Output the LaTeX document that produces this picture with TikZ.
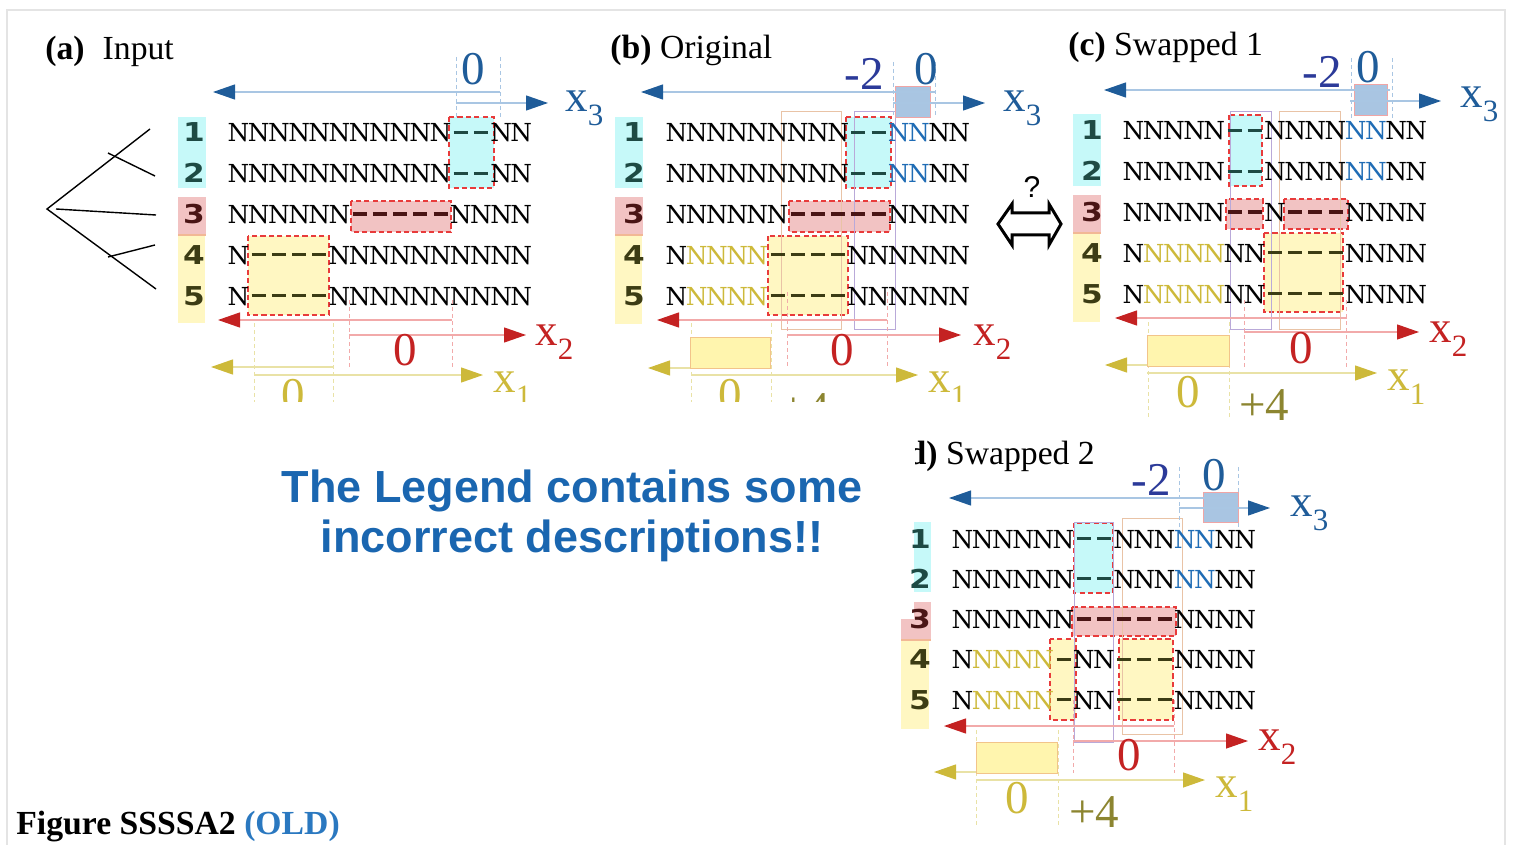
\documentclass[tikz,border=0pt]{standalone}
\usepackage{fontspec}
\setmainfont{Liberation Serif}
\newfontfamily\numfont{DejaVu Sans}
\newfontfamily\rowfont{DejaVu Serif}
\newfontfamily\lsans{Liberation Sans}
\usetikzlibrary{arrows.meta}
\definecolor{blueD}{HTML}{1F5C99}
\definecolor{blueL}{HTML}{A9C6E3}
\definecolor{indigoD}{HTML}{2B3A99}
\definecolor{redD}{HTML}{C42222}
\definecolor{redL}{HTML}{F2AAAA}
\definecolor{ylwD}{HTML}{CDB93A}
\definecolor{ylwL}{HTML}{E9E2A6}
\definecolor{oliveL}{HTML}{8C8530}
\definecolor{cyanF}{HTML}{C6F9F9}
\definecolor{pinkF}{HTML}{F2C3C3}
\definecolor{ylwF}{HTML}{FFF7C2}
\definecolor{tealD}{HTML}{1E4A44}
\definecolor{marD}{HTML}{4A1515}
\definecolor{oliD}{HTML}{3C3C14}
\definecolor{boxR}{HTML}{E83B3B}
\definecolor{bluN}{HTML}{1F6CB5}
\definecolor{ylwN}{HTML}{CDB93A}
\definecolor{bboxF}{HTML}{A9C5E2}
\definecolor{bboxD}{HTML}{F0A5A5}
\definecolor{yboxF}{HTML}{FFF5AE}
\definecolor{yboxD}{HTML}{F2C48A}
\definecolor{thinO}{HTML}{E9C3A6}
\definecolor{thinP}{HTML}{B9A9D9}
\definecolor{legB}{HTML}{1A66B0}
\definecolor{oldB}{HTML}{2A78C0}
\definecolor{grayB}{HTML}{E4E4E4}
\definecolor{orangeS}{HTML}{F2B895}
\newlength\cw
\setlength\cw{10.1pt}
\def\dcolor{black}
\def\seqrow#1#2{\def\dcolor{#1}\seqA#2\relax}
\def\seqA#1{\ifx#1\relax\else\seqch#1\expandafter\seqA\fi}
\def\seqch#1{\ifx#1-\makebox[\cw]{\textcolor{\dcolor}{\rule[4pt]{7pt}{1.6pt}}}\else\ifx#1Y\makebox[\cw]{\textcolor{ylwN}{N}}\else\ifx#1B\makebox[\cw]{\textcolor{bluN}{N}}\else\makebox[\cw]{N}\fi\fi\fi}
\newcommand\xsub[1]{x\raisebox{-7pt}{\fontsize{15.5pt}{16pt}\selectfont #1}}
\newcommand\panelrows[8]{%
  \foreach \i/\c in {1/tealD,2/tealD,3/marD,4/oliD,5/oliD}{%
    \node[numt,text=\c] (#1n\i) at (#2,{#4+(\i-1)*#5}) {\scalebox{1.2}[1]{\i}};}
  \node[rowt] (#1r1) at (#3,#4) {\seqrow{tealD}{#6}};
  \node[rowt] (#1r2) at (#3,{#4+#5}) {\seqrow{tealD}{#6}};
  \node[rowt] (#1r3) at (#3,{#4+2*#5}) {\seqrow{marD}{#7}};
  \node[rowt] (#1r4) at (#3,{#4+3*#5}) {\seqrow{oliD}{#8}};
  \node[rowt] (#1r5) at (#3,{#4+4*#5}) {\seqrow{oliD}{#8}};
}
\begin{document}
\begin{tikzpicture}[x=0.5pt,y=-0.5pt,
  rowt/.style={inner sep=0pt, anchor=base west, font=\rowfont\fontsize{12.4pt}{14pt}\selectfont},
  numt/.style={inner sep=0pt, anchor=base, font=\numfont\bfseries\fontsize{13pt}{15pt}\selectfont},
  ttl/.style={inner sep=0pt, anchor=base west, font=\fontsize{16.85pt}{18pt}\selectfont},
  lbl/.style={inner sep=0pt, anchor=base, font=\fontsize{23.5pt}{25pt}\selectfont},
  axl/.style={inner sep=0pt, anchor=base west, font=\fontsize{22.5pt}{24pt}\selectfont},
  axB/.style={draw=blueL, line width=0.6pt, -{Triangle[length=11pt,width=7.5pt,color=blueD]}},
  axR/.style={draw=redL, line width=0.6pt, -{Triangle[length=11pt,width=7.5pt,color=redD]}},
  axY/.style={draw=ylwL, line width=0.6pt, -{Triangle[length=11pt,width=7.5pt,color=ylwD]}},
  guideB/.style={draw=blueL, line width=0.45pt, dash pattern=on 2pt off 1.5pt},
  guideR/.style={draw=redL, line width=0.45pt, dash pattern=on 2pt off 1.5pt},
  guideY/.style={draw=ylwL, line width=0.45pt, dash pattern=on 2pt off 1.5pt},
  rbox/.style={draw=boxR, line width=0.7pt, dash pattern=on 2.6pt off 1.6pt},
  bbox/.style={fill=bboxF, draw=bboxD, line width=0.5pt},
  ybox/.style={fill=yboxF, draw=yboxD, line width=0.5pt},
  thinrect/.style={line width=0.5pt},
  treeline/.style={draw=black, line width=0.7pt},
]
\useasboundingbox (0,0) rectangle (1514,845);
\draw[grayB, line width=0.6pt] (7,850) -- (7,10) -- (1505,10) -- (1505,850);

% ================= (a) =================
\node[ttl] (ta) at (45,60) {\textbf{(a)}\hspace{9pt}Input};
\fill[cyanF] (178,117) rectangle (206,188);
\fill[pinkF] (178,197) rectangle (206,235);
\fill[ylwF] (178,236) rectangle (205,323);
\draw[orangeS, line width=1pt] (178,235.5) -- (206,235.5);
\draw[treeline] (150,129) -- (47,209) -- (156,289);
\draw[treeline] (56,209) -- (156,215);
\draw[treeline] (108,153) -- (155,176);
\draw[treeline] (108,257) -- (155,245);
\filldraw[fill=cyanF, rbox] (449,117) rectangle (494,188);
\filldraw[fill=pinkF, rbox] (351,201) rectangle (451,232);
\filldraw[fill=ylwF, rbox] (248,236) rectangle (329,315);
\panelrows{a}{194}{228}{142}{40.8}{NNNNNNNNNNN--NN}{NNNNNN-----NNNN}{N----NNNNNNNNNN}
\draw[guideB] (456,57) -- (456,117);
\draw[guideB] (500,57) -- (500,117);
\draw[axB] (500,92) -- (213,92);
\draw[axB] (456,103) -- (548,103);
\node[lbl, text=blueD] (a30) at (473,85) {0};
\node[axl, text=blueD] (ax3) at (565,112) {\xsub{3}};
\draw[guideR] (349,300) -- (349,368);
\draw[guideR] (452,300) -- (452,368);
\draw[axR] (452,320) -- (218,320);
\draw[axR] (349,335) -- (526,335);
\node[lbl, text=redD] (a20) at (405,365) {0};
\node[axl, text=redD] (ax2) at (535,345) {\xsub{2}};

% ================= (b) =================
\node[ttl] (tb) at (610,59) {\textbf{(b)} Original};
\fill[cyanF] (615,117) rectangle (643,188);
\fill[pinkF] (615,197) rectangle (643,235);
\fill[ylwF] (615,236) rectangle (642,324);
\draw[orangeS, line width=1pt] (615,235.5) -- (643,235.5);
\filldraw[fill=cyanF, rbox] (846,117) rectangle (891,188);
\filldraw[fill=pinkF, rbox] (789,201) rectangle (890,232);
\filldraw[fill=ylwF, rbox] (768,236) rectangle (848,315);
\draw[thinrect, thinO] (781,112) rectangle (841,329);
\draw[thinrect, thinP] (854,112) rectangle (895,329);
\panelrows{b}{634}{666}{142}{40.8}{NNNNNNNNN--BBNN}{NNNNNN-----NNNN}{NYYYY----NNNNNN}
\draw[guideB] (893,62) -- (893,118);
\draw[guideB] (935,62) -- (935,118);
\filldraw[bbox] (895,87) rectangle (930,118);
\draw[axB] (935,92) -- (641,92);
\draw[axB] (893,103) -- (985,103);
\node[lbl, text=indigoD] (b3m2) at (864,90) {-2};
\node[lbl, text=blueD] (b30) at (926,85) {0};
\node[axl, text=blueD] (bx3) at (1003,112) {\xsub{3}};
\draw[guideR] (787,292) -- (787,368);
\draw[guideR] (887,292) -- (887,368);
\draw[axR] (887,320) -- (657,320);
\draw[axR] (787,335) -- (961,335);
\node[lbl, text=redD] (b20) at (842,365) {0};
\node[axl, text=redD] (bx2) at (973,345) {\xsub{2}};

% clipped bottom of (a) and (b)
\begin{scope}
\clip (0,0) rectangle (1000,401);
\draw[guideY] (254,323) -- (254,405);
\draw[guideY] (333,323) -- (333,405);
\draw[axY] (333,367) -- (211,367);
\draw[axY] (254,375) -- (483,375);
\node[lbl, text=ylwD] (a10) at (293,410) {0};
\node[axl, text=ylwD] (ax1) at (493,392) {\xsub{1}};
\draw[guideY] (691,323) -- (691,405);
\draw[guideY] (771,323) -- (771,405);
\draw[axY] (771,368) -- (648,368);
\draw[axY] (691,375) -- (918,375);
\filldraw[ybox] (690,337) rectangle (770,368);
\node[lbl, text=ylwD] (b10) at (730,410) {0};
\node[lbl, text=oliveL, anchor=base west] (b1p4) at (780,424) {+4};
\node[axl, text=ylwD] (bx1) at (928,392) {\xsub{1}};
\end{scope}

% double arrow
\draw[black, line width=1.5pt, line join=miter] (998,224) -- (1012,204) -- (1012,213) -- (1049,213) -- (1049,204) -- (1061,224) -- (1049,245) -- (1049,235) -- (1012,235) -- (1012,245) -- cycle;
\node[inner sep=0pt, anchor=base, font=\lsans\fontsize{15pt}{16pt}\selectfont] (q) at (1032,198) {?};

% ================= (c) =================
\node[ttl] (tc) at (1068,56) {\textbf{(c)} Swapped 1};
\fill[cyanF] (1073,114) rectangle (1101,186);
\fill[pinkF] (1073,195) rectangle (1101,233);
\fill[ylwF] (1073,234) rectangle (1100,322);
\draw[orangeS, line width=1pt] (1073,233.5) -- (1101,233.5);
\filldraw[fill=cyanF, rbox] (1229,115) rectangle (1262,186);
\filldraw[fill=pinkF, rbox] (1226,199) rectangle (1263,229);
\filldraw[fill=pinkF, rbox] (1284,199) rectangle (1348,229);
\filldraw[fill=ylwF, rbox] (1264,233) rectangle (1343,312);
\draw[thinrect, thinP] (1230,112) rectangle (1271,329);
\draw[thinrect, thinO] (1279,112) rectangle (1340,329);
\panelrows{c}{1092}{1123}{140}{40.8}{NNNNN--NNNNBBNN}{NNNNN--N---NNNN}{NYYYYNN----NNNN}
\draw[guideB] (1351,58) -- (1351,118);
\draw[guideB] (1392,58) -- (1392,118);
\filldraw[bbox] (1354,85) rectangle (1387,116);
\draw[axB] (1390,90) -- (1104,90);
\draw[axB] (1350,101) -- (1441,101);
\node[lbl, text=indigoD] (c3m2) at (1322,88) {-2};
\node[lbl, text=blueD] (c30) at (1368,83) {0};
\node[axl, text=blueD] (cx3) at (1460,108) {\xsub{3}};
\draw[guideR] (1244,300) -- (1244,367);
\draw[guideR] (1346,300) -- (1346,367);
\draw[axR] (1347,318) -- (1115,318);
\draw[axR] (1244,332) -- (1419,332);
\node[lbl, text=redD] (c20) at (1301,363) {0};
\node[axl, text=redD] (cx2) at (1429,342) {\xsub{2}};
\draw[guideY] (1148,322) -- (1148,417);
\draw[guideY] (1229,322) -- (1229,417);
\draw[axY] (1229,365) -- (1105,365);
\draw[axY] (1147,373) -- (1377,373);
\filldraw[ybox] (1147,335) rectangle (1229,366);
\node[lbl, text=ylwD] (c10) at (1188,407) {0};
\node[lbl, text=oliveL, anchor=base west] (c1p4) at (1239,420) {+4};
\node[axl, text=ylwD] (cx1) at (1387,390) {\xsub{1}};

% ================= (d) =================
\begin{scope}
\clip (915,420) rectangle (1300,480);
\node[ttl] (td) at (896,464) {\textbf{(d)} Swapped 2};
\end{scope}
\fill[cyanF] (914,522) rectangle (931,592);
\fill[pinkF] (914,602) rectangle (931,620);
\fill[pinkF] (901,619) rectangle (931,640);
\fill[ylwF] (901,640) rectangle (929,729);
\draw[orangeS, line width=1pt] (901,640) -- (931,640);
\filldraw[fill=cyanF, rbox] (1074,523) rectangle (1113,593);
\filldraw[fill=pinkF, rbox] (1072,607) rectangle (1176,636);
\filldraw[fill=ylwF, rbox] (1050,639) rectangle (1076,720);
\filldraw[fill=ylwF, rbox] (1119,639) rectangle (1173,720);
\draw[thinrect, thinP] (1074,522) rectangle (1113,742);
\draw[thinrect, thinO] (1122,518) rectangle (1182,734);
\panelrows{d}{920}{952}{548}{40.3}{NNNNNN--NNNBBNN}{NNNNNN-----NNNN}{NYYYY-NN---NNNN}
\draw[guideB] (1179,467) -- (1179,530);
\draw[guideB] (1238,467) -- (1238,530);
\filldraw[bbox] (1203,492) rectangle (1238,522);
\draw[axB] (1238,498) -- (949,498);
\draw[axB] (1179,508) -- (1270,508);
\node[lbl, text=indigoD] (d3m2) at (1151,495) {-2};
\node[lbl, text=blueD] (d30) at (1214,490) {0};
\node[axl, text=blueD] (dx3) at (1290,516) {\xsub{3}};
\draw[guideR] (1073,700) -- (1073,773);
\draw[guideR] (1174,700) -- (1174,773);
\draw[axR] (1174,726) -- (944,726);
\draw[axR] (1073,741) -- (1248,741);
\node[lbl, text=redD] (d20) at (1129,770) {0};
\node[axl, text=redD] (dx2) at (1258,750) {\xsub{2}};
\draw[guideY] (976,730) -- (976,825);
\draw[guideY] (1058,730) -- (1058,825);
\draw[axY] (1057,772) -- (934,772);
\draw[axY] (976,780) -- (1205,780);
\filldraw[ybox] (976,742) rectangle (1057,773);
\node[lbl, text=ylwD] (d10) at (1017,813) {0};
\node[lbl, text=oliveL, anchor=base west] (d1p4) at (1069,827) {+4};
\node[axl, text=ylwD] (dx1) at (1215,797) {\xsub{1}};

% ================= legend note and caption =================
\node[inner sep=0pt, anchor=base, text=legB, font=\lsans\bfseries\fontsize{22.5pt}{25pt}\selectfont] (leg1) at (572,502) {The Legend contains some};
\node[inner sep=0pt, anchor=base, text=legB, font=\lsans\bfseries\fontsize{22.5pt}{25pt}\selectfont] (leg2) at (572,552) {incorrect descriptions!!};
\node[inner sep=0pt, anchor=base west, font=\bfseries\fontsize{16.85pt}{18pt}\selectfont] (cap) at (16,834) {Figure SSSSA2 \textcolor{oldB}{(OLD)}};
\end{tikzpicture}
\end{document}
